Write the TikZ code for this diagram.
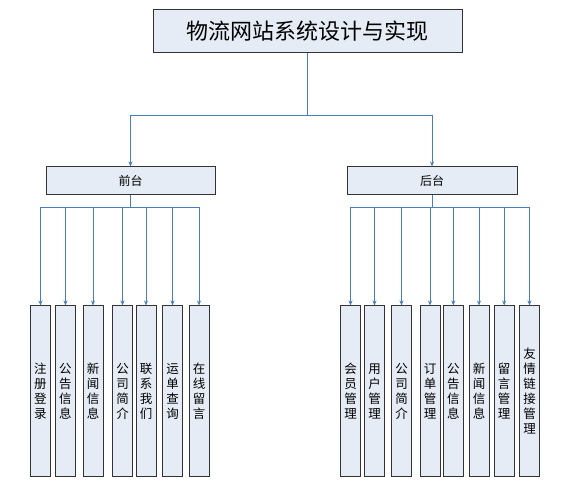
\documentclass[tikz,border=0pt]{standalone}
\usepackage{fontspec}
\setmainfont{Noto Sans CJK SC}
\usetikzlibrary{arrows.meta,positioning}

\definecolor{boxfill}{HTML}{E6ECF5}
\definecolor{linkblue}{HTML}{4A7EBB}

\tikzset{
  modbox/.style={draw=black!80, fill=boxfill, line width=1pt, inner sep=0pt},
  leafbox/.style={modbox, minimum width=20pt, minimum height=171pt, align=center,
    font=\fontsize{12.5}{15}\selectfont},
  conn/.style={draw=linkblue, line width=0.9pt},
  arr/.style={conn, -{Stealth[length=5pt,width=4pt]}}
}

\begin{document}
\begin{tikzpicture}[x=1pt, y=-1pt]
  \useasboundingbox (0,0) rectangle (566,481);

  % top level
  \node[modbox, minimum width=309pt, minimum height=43pt,
        font=\fontsize{22}{26}\selectfont] (title) at (307.5,31.5) {物流网站系统设计与实现};
  \node[modbox, minimum width=169pt, minimum height=28pt,
        font=\fontsize{12}{14}\selectfont] (front) at (130.5,181) {前台};
  \node[modbox, minimum width=170pt, minimum height=28pt,
        font=\fontsize{12}{14}\selectfont] (back) at (432,181) {后台};

  \coordinate (tbus) at (307.5,115);
  \draw[arr] (title.south) -- (tbus) -| (front.north);
  \draw[arr] (title.south) -- (tbus) -| (back.north);

  % front modules
  \coordinate (fbus) at (130.5,207);
  \foreach \x/\t [count=\i] in {40.5/{注\\册\\登\\录}, 65.5/{公\\告\\信\\息},
      93/{新\\闻\\信\\息}, 122.5/{公\\司\\简\\介}, 146/{联\\系\\我\\们},
      172.5/{运\\单\\查\\询}, 199/{在\\线\\留\\言}} {
    \node[leafbox] (f\i) at (\x,391.5) {\t};
    \draw[arr] (front.south) -- (fbus) -| (f\i.north);
  }

  % back modules
  \coordinate (bbus) at (432,207);
  \foreach \x/\t [count=\i] in {350.5/{会\\员\\管\\理}, 374.5/{用\\户\\管\\理},
      401.5/{公\\司\\简\\介}, 430/{订\\单\\管\\理}, 453.3/{公\\告\\信\\息},
      479/{新\\闻\\信\\息}, 504.2/{留\\言\\管\\理}, 529.5/{友\\情\\链\\接\\管\\理}} {
    \node[leafbox] (b\i) at (\x,391.5) {\t};
    \draw[arr] (back.south) -- (bbus) -| (b\i.north);
  }
\end{tikzpicture}
\end{document}
